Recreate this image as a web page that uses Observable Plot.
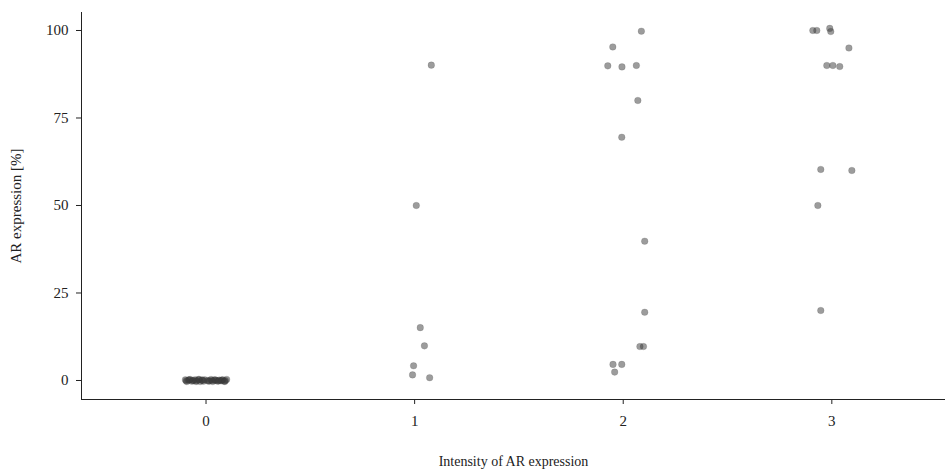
<!DOCTYPE html>
<html>
<head>
<meta charset="utf-8">
<script src="https://cdn.jsdelivr.net/npm/d3@7"></script>
<script src="https://cdn.jsdelivr.net/npm/@observablehq/plot@0.6"></script>
<style>
  html, body { margin: 0; padding: 0; background: #fff; }
  #chart svg g[aria-label="x-axis label"] text { font-size: 14px; }
  #chart svg g[aria-label="y-axis label"] text { font-size: 15px; }
</style>
</head>
<body>
<div id="chart"></div>
<script>
// Intensity categories and axis ticks
const intensity = [0, 1, 2, 3];
const yTicks = [0, 25, 50, 75, 100];

// AR expression [%] per intensity group
const pct0 = [0.2, -0.3, 0.1, 0.3, -0.2, 0.0, 0.2, -0.1, 0.3, -0.3, 0.1, -0.2, 0.2, 0.0, -0.1, 0.3, -0.3, 0.1, 0.0, -0.2, 0.1, -0.1, 0.2, -0.2, 0.0, 0.3,
              -0.1, 0.2, 0.0, -0.3, 0.3, 0.1, -0.2, 0.0, 0.2, -0.1, 0.1, -0.3];
const pct1 = [90.1, 50, 15.1, 9.9, 4.2, 1.6, 0.8];
const pct2 = [99.8, 95.3, 89.9, 89.6, 90.0, 80, 69.5, 39.8, 19.5, 9.7, 9.7, 4.6, 4.6, 2.4];
const pct3 = [100, 100, 100.6, 99.7, 95, 90, 90, 89.7, 60.3, 60, 50, 20];

// horizontal jitter of each point (in intensity units)
const jit0 = [-0.099, -0.092, -0.084, -0.076, -0.068, -0.060, -0.052, -0.044, -0.036, -0.028, -0.020, -0.012, -0.006, 0.008, 0.016, 0.024, 0.032, 0.040, 0.048, 0.056, 0.064, 0.072, 0.080, 0.087, 0.093, 0.099,
              -0.095, -0.080, -0.064, -0.048, -0.033, -0.017, 0.012, 0.028, 0.044, 0.060, 0.076, 0.090];
const jit1 = [0.080, 0.008, 0.027, 0.047, -0.005, -0.010, 0.072];
const jit2 = [0.087, -0.050, -0.074, -0.006, 0.063, 0.070, -0.007, 0.103, 0.103, 0.080, 0.097, -0.049, -0.007, -0.041];
const jit3 = [-0.091, -0.072, -0.010, -0.005, 0.082, -0.024, 0.005, 0.038, -0.053, 0.096, -0.067, -0.053];

const groups = [[pct0, jit0], [pct1, jit1], [pct2, jit2], [pct3, jit3]];
const rows = [];
groups.forEach(([p, j], gi) => {
  p.forEach((v, i) => rows.push({intensity: intensity[gi], x: intensity[gi] + j[i], pct: v}));
});

const chart = Plot.plot({
  width: 945,
  height: 472,
  marginLeft: 81,
  marginRight: 0,
  marginTop: 12,
  marginBottom: 73,
  style: {fontFamily: "'Liberation Serif', serif", fontSize: "15px", color: "#222", background: "#fff", overflow: "visible"},
  x: {
    domain: [-0.597, 3.545],
    ticks: intensity,
    tickFormat: d => String(d),
    tickSize: 5,
    tickPadding: 11,
    line: true,
    label: "Intensity of AR expression",
    labelAnchor: "center",
    labelOffset: 66,
    labelArrow: "none"
  },
  y: {
    domain: [-5.43, 105.14],
    ticks: yTicks,
    tickSize: 5,
    tickPadding: 8,
    line: true,
    label: "AR expression [%]",
    labelAnchor: "center",
    labelOffset: 71,
    labelArrow: "none"
  },
  marks: [
    Plot.dot(rows, {x: "x", y: "pct", r: 3.3, fill: "#3a3a3a", fillOpacity: 0.5, stroke: "#3a3a3a", strokeOpacity: 0.2, strokeWidth: 0.8})
  ]
});
document.getElementById("chart").appendChild(chart);
</script>
</body>
</html>
